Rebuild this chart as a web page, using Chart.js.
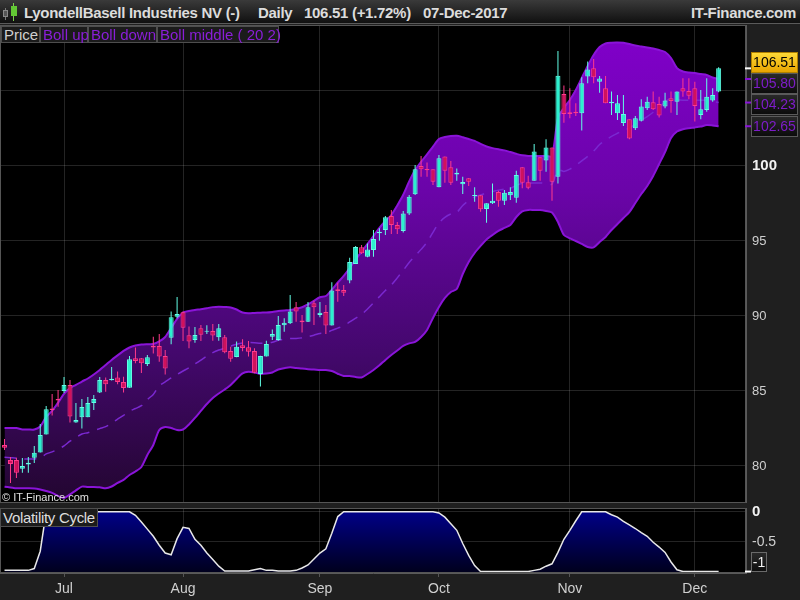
<!DOCTYPE html>
<html><head><meta charset="utf-8">
<script src="https://cdn.jsdelivr.net/npm/chart.js@4.4.1/dist/chart.umd.min.js"></script>
<style>
html,body{margin:0;padding:0;background:#1f1f1f;width:800px;height:600px;overflow:hidden;font-family:"Liberation Sans",Arial,sans-serif;}
#hdr{position:absolute;left:0;top:0;width:800px;height:24px;background:linear-gradient(#3a3a3a,#101010);border-bottom:1px solid #5a5a5a;box-sizing:border-box;}
.t{position:absolute;top:4px;font-weight:bold;font-size:15px;line-height:18px;color:#dcdcdc;letter-spacing:-0.3px;white-space:pre;}
canvas{position:absolute;left:0;}
#c1{top:25px;}
#c2{top:504px;}
.lg{position:absolute;top:26px;height:17px;box-sizing:border-box;border:1px solid #4e4e4e;background:#1b1b1b;font-size:15px;line-height:15px;padding-left:2px;white-space:pre;color:#8a1ed8;}
#vc{position:absolute;left:0;top:508px;width:98px;height:19px;box-sizing:border-box;border:1px solid #4e4e4e;background:#1b1b1b;font-size:15px;line-height:17px;padding-left:2px;color:#dedede;white-space:pre;letter-spacing:-0.3px;}
#cp{position:absolute;left:2px;top:491px;font-size:11px;line-height:13px;color:#e0e0e0;white-space:pre;}
.ic{position:absolute;}
</style></head>
<body>
<div id="hdr">
  <div class="ic" style="left:5px;top:8px;width:1px;height:12px;background:#777"></div>
  <div class="ic" style="left:3px;top:10px;width:5px;height:7px;background:#555;border:1px solid #888;box-sizing:border-box"></div>
  <div class="ic" style="left:13px;top:3px;width:1px;height:18px;background:#7ad04a"></div>
  <div class="ic" style="left:11px;top:6px;width:6px;height:10px;background:#62c834"></div>
  <span class="t" style="left:24px">LyondellBasell Industries NV (-)</span>
  <span class="t" style="left:258px">Daily</span>
  <span class="t" style="left:304px">106.51 (+1.72%)</span>
  <span class="t" style="left:423px">07-Dec-2017</span>
  <span class="t" style="right:4px">IT-Finance.com</span>
</div>
<canvas id="c1" width="800" height="478"></canvas>
<canvas id="c2" width="800" height="96"></canvas>
<div class="lg" style="left:1px;width:39px;color:#d0d0d0">Price</div>
<div class="lg" style="left:40px;width:48px">Boll up</div>
<div class="lg" style="left:88px;width:69px">Boll down</div>
<div class="lg" style="left:157px;width:122px">Boll middle ( 20 2)</div>
<div id="cp">© IT-Finance.com</div>
<div id="vc">Volatility Cycle</div>
<script>
// ---------- DATA ----------
const monthLabels = ['Jul','Aug','Sep','Oct','Nov','Dec'];
const monthIdx = [10,30,53,73,95,116];
const priceTicks = [80,85,90,95,100,105];
const volTicks = [0,-0.5];

const opens = [81.40,80.40,80.40,79.82,80.10,80.55,80.90,82.10,83.83,84.47,
85.00,85.40,82.90,83.25,83.25,84.20,84.89,85.73,85.72,85.90,
85.60,85.22,87.18,87.18,86.80,88.02,88.00,87.33,88.55,89.95,
90.25,88.71,88.40,89.18,88.95,89.00,88.58,88.58,87.67,87.27,
88.05,87.91,87.67,86.13,87.29,88.62,88.40,89.38,89.51,90.58,
89.69,89.62,90.85,90.07,90.27,89.36,91.78,91.73,92.36,93.47,
94.58,93.95,94.40,95.51,95.73,96.67,96.07,95.67,96.84,98.11,
100.00,99.80,99.78,98.58,100.64,99.91,99.44,98.78,99.18,98.00,
98.05,97.13,97.51,98.27,97.69,98.05,97.89,99.91,98.91,99.02,
100.58,100.36,101.24,99.29,104.80,103.58,103.62,103.51,105.96,106.51,
105.62,105.18,104.18,103.51,102.87,103.11,102.51,103.02,103.85,104.25,
104.13,103.96,104.51,104.29,105.18,105.00,105.18,103.40,103.73,104.36,
104.96];
const highs = [81.80,80.60,80.55,80.53,80.60,81.33,82.80,84.00,84.80,85.07,
85.93,85.73,84.20,84.47,84.60,84.73,85.93,85.90,86.60,86.30,
85.95,87.33,87.90,87.20,87.40,88.62,88.80,87.73,90.29,91.27,
90.29,89.29,89.27,89.40,89.38,89.47,89.47,88.73,87.95,88.29,
88.45,88.33,87.85,87.35,88.35,89.10,90.00,89.85,91.40,90.93,
90.07,90.93,91.02,90.93,90.73,92.25,92.22,92.07,93.89,94.67,
94.73,94.84,95.73,95.85,96.67,97.07,96.27,97.00,98.07,100.07,
100.67,100.24,99.78,100.73,100.64,100.33,99.84,99.29,99.20,98.58,
98.05,97.51,98.84,98.35,98.40,98.58,99.69,99.91,99.35,101.47,
100.58,101.78,101.24,107.67,105.36,105.18,104.18,105.91,106.96,107.13,
106.00,106.00,104.96,104.73,104.73,103.11,103.33,104.45,104.62,104.96,
104.62,104.89,104.96,104.96,105.85,105.85,105.62,105.07,105.85,105.18,
106.58];
const lows = [81.07,78.87,79.20,79.55,79.55,80.20,80.90,82.10,83.36,83.95,
84.87,82.90,82.88,82.49,83.25,83.73,84.87,84.95,85.70,85.45,
84.90,85.22,86.84,86.20,86.67,87.50,86.95,86.10,88.11,89.85,
88.33,87.85,88.22,88.33,88.80,88.35,88.35,87.51,86.95,87.25,
87.65,87.29,86.18,85.29,87.29,88.40,88.35,88.95,89.47,89.62,
88.89,89.60,89.40,89.91,88.80,89.36,90.95,91.33,92.18,93.47,
94.13,93.91,93.95,95.02,95.40,95.47,95.47,95.56,96.73,98.07,
99.29,99.29,98.73,98.58,98.89,98.73,99.02,98.13,98.67,97.62,
96.95,96.22,97.47,97.29,97.40,97.73,97.55,98.51,98.45,99.02,
99.02,99.62,97.69,98.84,102.89,103.18,103.33,102.36,105.51,105.51,
104.89,104.18,103.40,103.07,102.67,101.78,102.40,102.96,103.73,103.73,
103.24,103.85,103.55,103.40,104.62,104.45,102.96,103.11,103.62,104.29,
104.91];
const closes = [81.22,80.13,79.55,80.00,80.22,80.88,82.07,83.78,83.73,84.36,
85.40,83.29,83.07,83.93,84.20,84.47,85.73,85.45,85.82,85.60,
85.20,87.11,87.00,86.84,87.25,87.90,87.29,86.49,89.91,90.13,
89.22,88.29,88.73,88.75,89.02,88.69,89.18,87.58,87.15,87.95,
87.87,87.62,86.22,87.33,88.13,88.80,89.40,89.55,90.29,90.29,
89.58,90.58,90.58,90.22,89.36,91.69,91.67,91.55,93.60,94.60,
94.18,94.44,95.13,95.62,96.58,96.07,95.78,96.84,97.95,99.78,
99.78,99.71,98.95,100.51,99.69,98.89,99.55,98.93,98.95,98.07,
97.11,97.51,97.69,97.69,98.22,98.27,99.40,98.89,98.55,100.96,
99.69,101.24,98.95,106.02,103.47,103.47,103.51,105.51,106.44,105.91,
105.84,104.18,104.29,104.18,103.47,101.84,103.18,103.96,104.29,103.78,
103.36,104.36,104.33,104.96,104.96,104.69,104.00,103.78,104.62,104.73,
106.51];
const bollUp = [82.53,82.53,82.53,82.43,82.43,82.43,82.63,83.27,83.67,84.22,
84.80,85.20,85.40,85.63,85.83,86.10,86.40,86.73,87.07,87.37,
87.67,87.90,88.03,88.10,88.12,88.13,88.30,88.60,89.20,89.80,
90.23,90.33,90.40,90.45,90.52,90.59,90.62,90.60,90.57,90.43,
90.23,90.18,90.20,90.22,90.23,90.27,90.33,90.37,90.40,90.47,
90.58,90.78,91.01,91.25,91.33,91.75,92.23,92.67,93.20,93.77,
94.29,94.80,95.33,95.87,96.33,96.73,97.37,98.08,98.97,99.73,
100.28,100.77,101.29,101.80,101.93,102.00,102.02,101.92,101.80,101.67,
101.47,101.30,101.19,101.11,101.04,100.93,100.81,100.71,100.67,100.67,
100.67,100.67,100.65,103.20,103.87,104.40,105.07,105.87,106.67,107.40,
107.93,108.17,108.22,108.23,108.21,108.13,108.03,107.97,107.90,107.83,
107.73,107.60,107.20,106.53,106.30,106.23,106.20,106.13,106.07,105.90,
105.80];
const bollDown = [78.62,78.57,78.51,78.51,78.51,78.50,78.43,78.33,78.20,78.00,
77.87,78.10,78.37,78.62,78.60,78.60,78.58,78.51,78.63,78.87,
79.07,79.40,79.63,79.93,80.73,81.40,82.40,82.60,82.53,82.40,
82.43,82.77,83.20,83.67,84.13,84.53,84.83,85.10,85.40,85.80,
86.17,86.28,86.23,86.13,86.16,86.23,86.43,86.52,86.58,86.53,
86.50,86.45,86.43,86.40,86.40,86.33,86.15,86.00,86.00,85.93,
85.90,86.13,86.40,86.71,87.07,87.40,87.70,88.00,88.17,88.27,
88.60,89.07,89.87,90.60,91.20,91.60,91.80,92.80,93.60,94.20,
94.67,95.10,95.40,95.67,95.87,96.07,96.60,96.97,97.07,97.07,
97.07,97.00,96.90,96.27,95.40,95.18,95.00,94.80,94.60,94.57,
94.93,95.27,95.73,96.13,96.53,96.93,97.53,98.13,98.67,99.33,
100.13,100.93,101.87,102.30,102.45,102.52,102.57,102.63,102.73,102.70,
102.65];
const bollMid = [80.58,80.55,80.52,80.47,80.47,80.47,80.53,80.80,80.94,81.11,
81.34,81.65,81.89,82.13,82.22,82.35,82.49,82.62,82.85,83.12,
83.37,83.65,83.83,84.02,84.43,84.77,85.35,85.60,85.87,86.10,
86.33,86.55,86.80,87.06,87.33,87.56,87.73,87.85,87.99,88.12,
88.20,88.23,88.22,88.18,88.20,88.25,88.38,88.45,88.49,88.50,
88.54,88.62,88.72,88.83,88.87,89.04,89.19,89.34,89.60,89.85,
90.10,90.47,90.87,91.29,91.70,92.07,92.54,93.04,93.57,94.00,
94.44,94.92,95.58,96.20,96.57,96.80,96.91,97.36,97.70,97.94,
98.07,98.20,98.30,98.39,98.46,98.50,98.71,98.84,98.87,98.87,
98.87,98.84,98.78,99.74,99.64,99.79,100.04,100.34,100.64,100.99,
101.43,101.72,101.98,102.18,102.37,102.53,102.78,103.05,103.29,103.58,
103.93,104.27,104.54,104.42,104.38,104.38,104.39,104.38,104.40,104.30,
104.23];
const volCycle = [-0.98,-0.98,-0.98,-0.98,-0.98,-0.95,-0.66,0,0,0,
0,0,0,0,0,0,0,0,0,0,
0,0,-0.06,-0.17,-0.29,-0.41,-0.56,-0.69,-0.72,-0.45,
-0.26,-0.28,-0.46,-0.56,-0.69,-0.80,-0.91,-0.99,-0.99,-0.99,
-0.99,-0.99,-0.97,-0.95,-0.98,-0.98,-0.99,-0.99,-0.99,-0.98,
-0.94,-0.89,-0.79,-0.69,-0.62,-0.36,-0.08,0,0,0,
0,0,0,0,0,0,0,0,0,0,
0,0,0,-0.02,-0.09,-0.20,-0.31,-0.53,-0.73,-0.90,
-1,-1,-1,-1,-1,-1,-1,-1,-1,-0.98,
-0.96,-0.91,-0.87,-0.68,-0.46,-0.31,-0.15,0,0,0,
0,0,-0.05,-0.09,-0.16,-0.22,-0.28,-0.35,-0.41,-0.51,
-0.59,-0.68,-0.84,-0.97,-1,-1,-1,-1,-1,-1,
-1];

// ---------- STYLE ----------
const FONT = "'Liberation Sans', Arial, sans-serif";
Chart.defaults.font.family = FONT;
const UP_FILL = '#2cf0cf', UP_EDGE = '#62ffe6';
const DN_FILL = '#d0125c', DN_EDGE = '#ff3a8c';
const BAND = '#8a14d8';
const GRID = 'rgba(255,255,255,0.14)';
const X_MIN = -0.76, X_MAX = 124.6;

const idx = closes.map((_, i) => i);
const isUp = idx.map(i => closes[i] >= opens[i]);

function bandGrad(c) {
  const ch = c.chart, ca = ch.chartArea;
  if (!ca) return 'rgba(110,0,170,0.9)';
  const g = ch.ctx.createLinearGradient(0, ca.top, 0, ca.bottom);
  g.addColorStop(0, '#8200cc');
  g.addColorStop(0.35, '#6a04a8');
  g.addColorStop(0.7, '#42086a');
  g.addColorStop(1, '#22062f');
  return g;
}
function volGrad(c) {
  const ch = c.chart, ca = ch.chartArea;
  if (!ca) return '#000080';
  const g = ch.ctx.createLinearGradient(0, ca.top, 0, ca.bottom);
  g.addColorStop(0, '#00008e');
  g.addColorStop(1, '#00001c');
  return g;
}
const bgPlugin = {
  id: 'bg',
  beforeDraw(ch) {
    const { ctx, chartArea: ca } = ch;
    ctx.save();
    ctx.fillStyle = '#1f1f1f';
    ctx.fillRect(0, 0, ch.width, ch.height);
    ctx.fillStyle = '#000';
    ctx.fillRect(ca.left, ca.top, ca.right - ca.left, ca.bottom - ca.top);
    ctx.restore();
  },
  afterDraw(ch) {
    const { ctx, chartArea: ca } = ch;
    ctx.save();
    ctx.strokeStyle = '#555';
    ctx.lineWidth = 1;
    ctx.strokeRect(ca.left + 0.5, ca.top + 0.5, ca.right - ca.left - 1, ca.bottom - ca.top - 1);
    ctx.restore();
  }
};
function drawBox(ctx, x, top, w, h, text, bg, fg, edge, bold) {
  ctx.fillStyle = bg;
  ctx.fillRect(x, top, w, h);
  ctx.strokeStyle = edge;
  ctx.lineWidth = 1;
  ctx.strokeRect(x + 0.5, top + 0.5, w - 1, h - 1);
  ctx.fillStyle = fg;
  ctx.font = (bold ? 'bold ' : '') + '14px ' + FONT;
  ctx.textAlign = 'center';
  ctx.textBaseline = 'middle';
  ctx.fillText(text, x + w / 2, top + h / 2 + 1);
}
const markerPlugin = {
  id: 'markers',
  afterDraw(ch) {
    const { ctx, scales: { y } } = ch;
    const n = closes.length - 1;
    const items = [
      { v: closes[n], kind: 'last' },
      { v: bollUp[n], kind: 'b' },
      { v: bollMid[n], kind: 'b' },
      { v: bollDown[n], kind: 'b' }
    ];
    const h = 20, gap = 1;
    items.forEach(it => { it.py = y.getPixelForValue(it.v); it.c = it.py; });
    for (let k = 0; k < 30; k++) {
      for (let j = 0; j < items.length - 1; j++) {
        const a = items[j], b = items[j + 1];
        const ov = (a.c + h / 2 + gap) - (b.c - h / 2);
        if (ov > 0) { a.c -= ov / 2; b.c += ov / 2; }
      }
    }
    ctx.save();
    items.forEach(it => {
      ctx.strokeStyle = it.kind === 'last' ? '#ffffff' : '#8a14d8';
      ctx.lineWidth = 2;
      ctx.beginPath(); ctx.moveTo(745, it.py); ctx.lineTo(751, it.py); ctx.stroke();
      const top = Math.round(it.c - h / 2);
      if (it.kind === 'last') {
        const g = ctx.createLinearGradient(0, top, 0, top + h);
        g.addColorStop(0, '#ffdc3a'); g.addColorStop(1, '#e8a400');
        drawBox(ctx, 751, top, 47, h + 1, it.v.toFixed(2), g, '#000', '#b08000', false);
      } else {
        const g = ctx.createLinearGradient(0, top, 0, top + h);
        g.addColorStop(0, '#2a2a2a'); g.addColorStop(1, '#0c0c0c');
        drawBox(ctx, 751, top, 47, h + 1, it.v.toFixed(2), g, '#7d1cc8', '#5a5a5a', false);
      }
    });
    ctx.restore();
  }
};
const volMarker = {
  id: 'volMarker',
  afterDraw(ch) {
    const { ctx, scales: { y }, chartArea: ca } = ch;
    const v = volCycle[volCycle.length - 1];
    const py = y.getPixelForValue(v);
    const h = 20;
    const top = Math.min(py - h / 2, ca.bottom - h - 1);
    ctx.save();
    ctx.strokeStyle = '#fff'; ctx.lineWidth = 2;
    ctx.beginPath(); ctx.moveTo(745, py); ctx.lineTo(751, py); ctx.stroke();
    const g = ctx.createLinearGradient(0, top, 0, top + h);
    g.addColorStop(0, '#2a2a2a'); g.addColorStop(1, '#0c0c0c');
    drawBox(ctx, 751, Math.round(top), 16, h, String(v), g, '#f0f0f0', '#6a6a6a', false);
    ctx.restore();
  }
};

const xCommon = {
  type: 'linear', min: X_MIN, max: X_MAX, offset: false,
  afterBuildTicks: s => { s.ticks = monthIdx.map(v => ({ value: v })); }
};

new Chart(document.getElementById('c1'), {
  type: 'bar',
  data: {
    datasets: [
      { type: 'bar', data: idx.map(i => ({ x: i, y: [lows[i], highs[i]] })),
        backgroundColor: idx.map(i => isUp[i] ? UP_EDGE : DN_EDGE),
        borderWidth: 0, barThickness: 1, grouped: false, inflateAmount: 0, order: 1 },
      { type: 'bar', data: idx.map(i => ({ x: i, y: [opens[i], closes[i]] })),
        backgroundColor: idx.map(i => isUp[i] ? UP_FILL : DN_FILL),
        borderColor: idx.map(i => isUp[i] ? UP_EDGE : DN_EDGE),
        borderWidth: 1, borderSkipped: false, barThickness: 5, grouped: false, inflateAmount: 0, order: 0 },
      { type: 'line', label: 'Boll up', data: idx.map(i => ({ x: i, y: bollUp[i] })),
        borderColor: BAND, borderWidth: 2, pointRadius: 0, fill: '+1', backgroundColor: bandGrad, tension: 0.25, order: 3 },
      { type: 'line', label: 'Boll down', data: idx.map(i => ({ x: i, y: bollDown[i] })),
        borderColor: BAND, borderWidth: 2, pointRadius: 0, fill: false, tension: 0.25, order: 4 },
      { type: 'line', label: 'Boll middle', data: idx.map(i => ({ x: i, y: bollMid[i] })),
        borderColor: '#7a28d0', borderWidth: 1.5, borderDash: [12, 8], pointRadius: 0, fill: false, tension: 0.25, order: 2 }
    ]
  },
  options: {
    responsive: false, animation: false, events: [],
    layout: { padding: 0 },
    plugins: { legend: { display: false }, tooltip: { enabled: false }, filler: { drawTime: 'beforeDatasetsDraw' } },
    scales: {
      x: Object.assign({}, xCommon, {
        z: 1,
        grid: { color: GRID, drawTicks: false, offset: false },
        border: { display: false },
        ticks: { display: false },
        afterFit: s => { s.height = 0; s.paddingLeft = 0; s.paddingRight = 0; }
      }),
      y: {
        type: 'linear', position: 'right', min: 77.53, max: 109.4, z: 1,
        grid: { color: GRID, drawTicks: false },
        border: { display: true, color: '#5a5a5a' },
        ticks: {
          padding: 6,
          color: c => (c.tick && c.tick.value === 100) ? '#f2f2f2' : '#cfcfcf',
          font: c => (c.tick && c.tick.value === 100) ? { size: 15, weight: 'bold' } : { size: 13 }
        },
        afterBuildTicks: s => { s.ticks = priceTicks.map(v => ({ value: v })); },
        afterFit: s => { s.width = 54; s.paddingTop = 0; s.paddingBottom = 0; }
      }
    }
  },
  plugins: [bgPlugin, markerPlugin]
});

new Chart(document.getElementById('c2'), {
  type: 'line',
  data: {
    datasets: [
      { label: 'Volatility Cycle', data: idx.map(i => ({ x: i, y: volCycle[i] })),
        borderColor: '#e8e8e8', borderWidth: 1.5, pointRadius: 0, fill: 'start', backgroundColor: volGrad, tension: 0 }
    ]
  },
  options: {
    responsive: false, animation: false, events: [],
    layout: { padding: { top: 4, left: 0, right: 0, bottom: 0 } },
    plugins: { legend: { display: false }, tooltip: { enabled: false } },
    scales: {
      x: Object.assign({}, xCommon, {
        grid: { color: GRID, drawTicks: true, tickLength: 4, tickColor: '#555', offset: false },
        border: { display: true, color: '#5a5a5a' },
        ticks: { color: '#d0d0d0', font: { size: 14 }, padding: 4, autoSkip: false, maxRotation: 0,
                 callback: (v, i) => monthLabels[i] },
        afterFit: s => { s.height = 27; s.paddingLeft = 0; s.paddingRight = 0; }
      }),
      y: {
        type: 'linear', position: 'right', min: -1.024, max: 0.063,
        grid: { color: GRID, drawTicks: false },
        border: { display: true, color: '#5a5a5a' },
        ticks: {
          padding: 6,
          color: c => (c.tick && c.tick.value === 0) ? '#f2f2f2' : '#cfcfcf',
          font: c => (c.tick && c.tick.value === 0) ? { size: 15, weight: 'bold' } : { size: 14 },
          callback: v => String(v)
        },
        afterBuildTicks: s => { s.ticks = volTicks.map(v => ({ value: v })); },
        afterFit: s => { s.width = 54; s.paddingTop = 0; s.paddingBottom = 0; }
      }
    }
  },
  plugins: [bgPlugin, volMarker]
});
</script>
</body></html>
